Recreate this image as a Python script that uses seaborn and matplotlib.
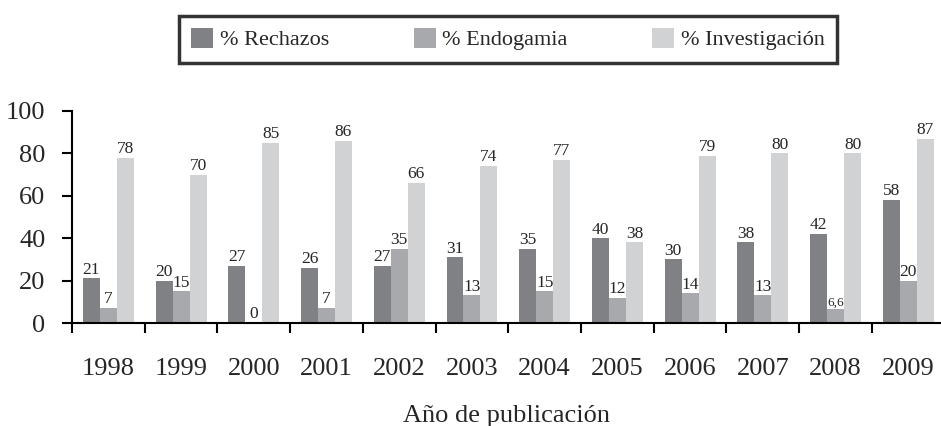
import numpy as np
import pandas as pd
import matplotlib
matplotlib.use("Agg")
import matplotlib.pyplot as plt
import seaborn as sns

# data
years = ["1998", "1999", "2000", "2001", "2002", "2003",
         "2004", "2005", "2006", "2007", "2008", "2009"]
series = ["% Rechazos", "% Endogamia", "% Investigación"]
rechazos = [21, 20, 27, 26, 27, 31, 35, 40, 30, 38, 42, 58]
endogamia = [7, 15, 0, 7, 35, 13, 15, 12, 14, 13, 6.6, 20]
investigacion = [78, 70, 85, 86, 66, 74, 77, 38, 79, 80, 80, 87]
colors = ["#808185", "#a8a9ad", "#d1d2d4"]

df = pd.DataFrame({
    "year": years * 3,
    "serie": np.repeat(series, len(years)),
    "value": rechazos + endogamia + investigacion,
})

sns.set_style("white")
plt.rcParams["font.family"] = ["Liberation Serif", "DejaVu Serif"]

fig = plt.figure(figsize=(9.41, 4.26), dpi=100)
ax = fig.add_axes([72 / 941, 1 - 323 / 426, 1 - 72 / 941, (323 - 111) / 426])

sns.barplot(data=df, x="year", y="value", hue="serie", hue_order=series,
            order=years, palette=colors, width=0.7, gap=0, saturation=1,
            edgecolor="none", ax=ax)

# value labels above each bar
for cont in ax.containers:
    labels = []
    for v in cont.datavalues:
        if float(v).is_integer():
            labels.append(f"{int(v)}")
        else:
            labels.append(f"{v:.1f}".replace(".", ","))
    ax.bar_label(cont, labels=labels, padding=0.5, fontsize=12.5)
for t in ax.texts:
    if "," in t.get_text():
        t.set_fontsize(9.5)

ax.set_xlim(-0.5, 11.45)
ax.set_ylim(0, 100)
ax.set_yticks([0, 20, 40, 60, 80, 100])
ax.set_xticks(np.arange(len(years)))
ax.set_xticks(np.arange(len(years)) - 0.5, minor=True)
ax.tick_params(axis="x", which="major", length=0, pad=25, labelsize=19)
ax.tick_params(axis="x", which="minor", length=7, width=1.5, direction="out",
               bottom=True, color="black")
ax.tick_params(axis="y", length=7, width=1.5, direction="out", left=True,
               pad=12, labelsize=19, color="black")

for s in ["top", "right"]:
    ax.spines[s].set_visible(False)
for s in ["left", "bottom"]:
    ax.spines[s].set_color("black")
    ax.spines[s].set_linewidth(1.5)

ax.set_ylabel("")
ax.set_xlabel("Año de publicación", fontsize=19, labelpad=18)

handles, labels = ax.get_legend_handles_labels()
ax.get_legend().remove()
leg = fig.legend(handles, labels, loc="center", ncol=3,
                 bbox_to_anchor=(508 / 941, 1 - 39 / 426),
                 fontsize=16, frameon=True, fancybox=False,
                 handlelength=1.0, handleheight=1.0, handletextpad=0.3,
                 columnspacing=3.8, borderpad=0.55)
leg.get_frame().set_edgecolor("black")
leg.get_frame().set_linewidth(2.5)

fig.savefig("out.png", dpi=100)
